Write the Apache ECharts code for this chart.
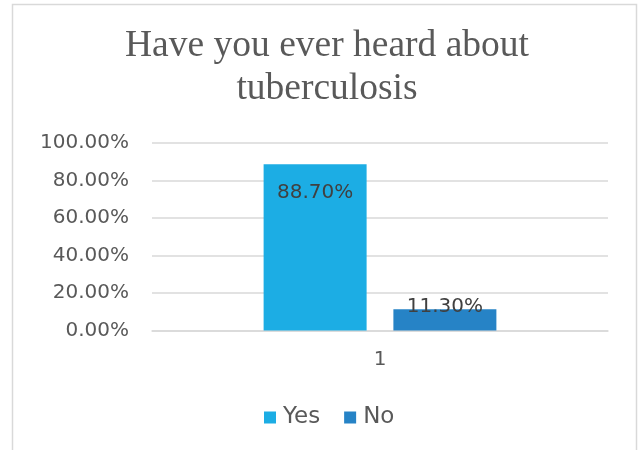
<!DOCTYPE html>
<html>
<head>
<meta charset="utf-8">
<script src="https://cdn.jsdelivr.net/npm/echarts@6/dist/echarts.min.js"></script>
<style>
  html, body { margin: 0; padding: 0; background: #fff; }
  #chart { width: 643px; height: 450px; }
</style>
</head>
<body>
<div id="chart"></div>
<script>
  // data
  const categories = ['1'];
  const seriesNames = ['Yes', 'No'];
  const yesValues = [0.887];
  const noValues = [0.113];
  const yTicks = [0, 0.2, 0.4, 0.6, 0.8, 1];

  const textColor = '#595959';
  const gridColor = '#d9d9d9';
  const sans = 'DejaVu Sans';

  const pct = v => (v * 100).toFixed(2) + '%';

  let chart = echarts.init(document.getElementById('chart'), null, { renderer: 'canvas' });
  chart.setOption({
    animation: false,
    backgroundColor: '#fff',
    color: ['#1CADE4', '#2683C6'],
    graphic: [{
      type: 'rect',
      shape: { x: 12.5, y: 4.5, width: 624, height: 470 },
      style: { fill: 'none', stroke: gridColor, lineWidth: 1.5 },
      silent: true
    }],
    title: {
      text: 'Have you ever heard about\ntuberculosis',
      left: 322,
      top: 20,
      textAlign: 'center',
      textStyle: {
        fontFamily: 'Liberation Serif',
        fontSize: 37.5,
        lineHeight: 43,
        fontWeight: 'normal',
        color: textColor
      }
    },
    legend: {
      data: seriesNames,
      top: 401,
      left: 259,
      icon: 'rect',
      itemWidth: 12,
      itemHeight: 12,
      itemGap: 24,
      textStyle: { fontFamily: sans, fontSize: 23, color: textColor, padding: [0, 0, 0, 2] }
    },
    grid: { left: 152, right: 35, top: 143, bottom: 119.5 },
    xAxis: {
      type: 'category',
      data: categories,
      axisLine: { show: true, lineStyle: { color: gridColor, width: 1.5 } },
      axisTick: { show: false },
      axisLabel: { margin: 19, fontFamily: sans, fontSize: 20, color: textColor }
    },
    yAxis: {
      type: 'value',
      min: yTicks[0],
      max: yTicks[yTicks.length - 1],
      interval: yTicks[1] - yTicks[0],
      axisLine: { show: false },
      axisTick: { show: false },
      splitLine: { lineStyle: { color: gridColor, width: 1.5 } },
      axisLabel: { margin: 23, fontFamily: sans, fontSize: 20, color: textColor, formatter: pct }
    },
    series: [
      {
        name: seriesNames[0],
        type: 'bar',
        data: yesValues,
        barWidth: 103,
        barGap: '26%',
        label: {
          show: true,
          position: 'insideTop',
          distance: 19,
          fontFamily: sans,
          fontSize: 20,
          color: '#404040',
          formatter: p => pct(p.value)
        }
      },
      {
        name: seriesNames[1],
        type: 'bar',
        data: noValues,
        barWidth: 103,
        barGap: '26%',
        label: {
          show: true,
          position: 'top',
          distance: -7,
          fontFamily: sans,
          fontSize: 20,
          color: '#404040',
          formatter: p => pct(p.value)
        }
      }
    ]
  });
</script>
</body>
</html>
